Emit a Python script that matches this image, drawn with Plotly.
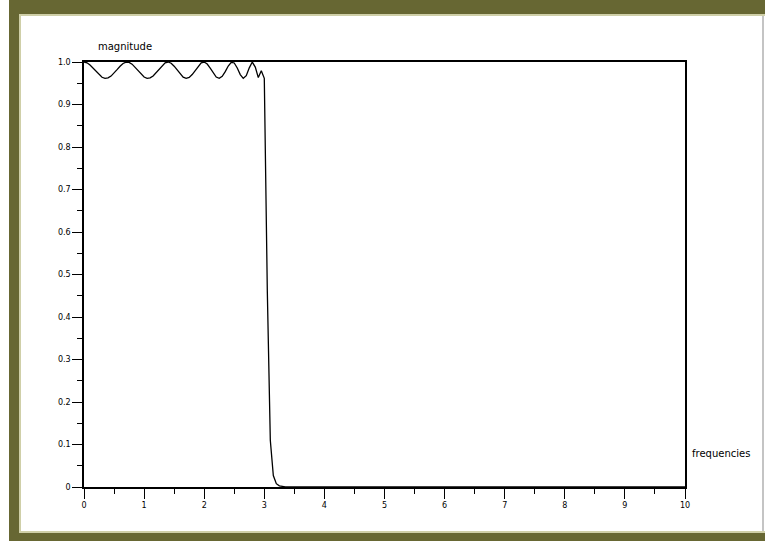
import plotly.graph_objects as go

# ---- data ----
frequencies = [0.00, 0.05, 0.10, 0.15, 0.20, 0.25, 0.30, 0.35, 0.40, 0.45,
               0.50, 0.55, 0.60, 0.65, 0.70, 0.75, 0.80, 0.85, 0.90, 0.95,
               1.00, 1.05, 1.10, 1.15, 1.20, 1.25, 1.30, 1.35, 1.40, 1.45,
               1.50, 1.55, 1.60, 1.65, 1.70, 1.75, 1.80, 1.85, 1.90, 1.95,
               2.00, 2.05, 2.10, 2.15, 2.20, 2.25, 2.30, 2.35, 2.40, 2.45,
               2.50, 2.55, 2.60, 2.65, 2.70, 2.75, 2.80, 2.85, 2.90, 2.95,
               3.00, 3.05, 3.10, 3.15, 3.20, 3.25, 3.30, 3.35, 3.40, 3.45,
               3.50, 4.0, 5.0, 6.0, 7.0, 8.0, 9.0, 10.0]
magnitude = [1.00000, 0.99815, 0.99300, 0.98556, 0.97726, 0.96968, 0.96415, 0.96163, 0.96257, 0.96682,
             0.97369, 0.98196, 0.99009, 0.99646, 0.99974, 0.99918, 0.99486, 0.98767, 0.97909, 0.97087,
             0.96466, 0.96169, 0.96257, 0.96723, 0.97481, 0.98382, 0.99228, 0.99818, 0.99997, 0.99706,
             0.99010, 0.98079, 0.97142, 0.96444, 0.96156, 0.96368, 0.97048, 0.98036, 0.99060, 0.99799,
             0.99985, 0.99524, 0.98537, 0.97378, 0.96465, 0.96157, 0.96619, 0.97733, 0.99051, 0.99918,
             0.99774, 0.98588, 0.97033, 0.96167, 0.96772, 0.98622, 0.99985, 0.98798, 0.96337, 0.97960,
             0.96154, 0.46193, 0.10989, 0.02703, 0.00787, 0.00263, 0.00098, 0.00040, 0.00017, 0.00008,
             0.00004, 0.0, 0.0, 0.0, 0.0, 0.0, 0.0, 0.0]

x_tickvals = [0, 1, 2, 3, 4, 5, 6, 7, 8, 9, 10]
x_ticktext = ["0", "1", "2", "3", "4", "5", "6", "7", "8", "9", "10"]
y_tickvals = [0, 0.1, 0.2, 0.3, 0.4, 0.5, 0.6, 0.7, 0.8, 0.9, 1.0]
y_ticktext = ["0", "0.1", "0.2", "0.3", "0.4", "0.5", "0.6", "0.7", "0.8", "0.9", "1.0"]

# ---- layout geometry (pixels) ----
W, H = 765, 541
L, R, T, B = 84, 80, 62, 54
PW, PH = W - L - R, H - T - B


def px(x):
    return (x - L) / PW


def py(y):
    return (H - B - y) / PH


OLIVE = "#676733"
TAN = "#cfcfa8"

fig = go.Figure()
fig.add_trace(go.Scatter(x=frequencies, y=magnitude, mode="lines",
                         line=dict(color="black", width=1.3),
                         showlegend=False, hoverinfo="skip"))

shapes = []


def rect(x0, y0, x1, y1, color):
    shapes.append(dict(type="rect", xref="paper", yref="paper",
                       x0=px(x0), x1=px(x1), y0=py(y1), y1=py(y0),
                       fillcolor=color, line=dict(width=0), layer="below"))


rect(9, 0, 765, 14, OLIVE)        # top band
rect(9, 0, 19, 541, OLIVE)        # left band
rect(9, 533, 765, 541, OLIVE)     # bottom band
rect(19, 14, 765, 16, TAN)        # inner light lines
rect(19, 14, 21, 533, TAN)
rect(19, 531, 765, 533, TAN)
rect(762, 16, 764, 531, "#c4c4c4")  # right edge line

axis_common = dict(showline=True, linecolor="black", linewidth=1.5,
                   mirror=True, ticks="outside", ticklen=10, tickwidth=1.3,
                   tickcolor="black", showgrid=False, zeroline=False,
                   tickfont=dict(family="DejaVu Sans", size=8, color="black"))

fig.update_layout(
    width=W, height=H,
    margin=dict(l=L, r=R, t=T, b=B),
    paper_bgcolor="white", plot_bgcolor="white",
    shapes=shapes,
    xaxis=dict(range=[0, 10], tickvals=x_tickvals, ticktext=x_ticktext,
               minor=dict(ticks="outside", ticklen=5, tickwidth=1.3,
                          tickcolor="black", dtick=0.5, tick0=0),
               **axis_common),
    yaxis=dict(range=[0, 1], tickvals=y_tickvals, ticktext=y_ticktext,
               minor=dict(ticks="outside", ticklen=5, tickwidth=1.3,
                          tickcolor="black", dtick=0.05, tick0=0),
               **axis_common),
    annotations=[
        dict(text="magnitude", xref="paper", yref="paper",
             x=px(96), y=py(46), xanchor="left", yanchor="middle",
             showarrow=False, font=dict(family="DejaVu Sans", size=10, color="black")),
        dict(text="frequencies", xref="paper", yref="paper",
             x=px(690), y=py(453), xanchor="left", yanchor="middle",
             showarrow=False, font=dict(family="DejaVu Sans", size=10, color="black")),
    ],
)

fig.write_html("out.html",
               config={"displayModeBar": False},
               post_script="document.body.style.margin='0';document.body.style.overflow='hidden';")
